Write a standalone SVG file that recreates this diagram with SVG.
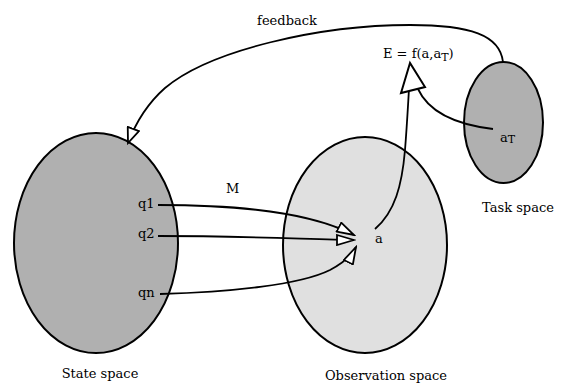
<svg xmlns="http://www.w3.org/2000/svg" width="567" height="385" viewBox="0 0 567 385">
<style>
text{font-family:'DejaVu Serif','Liberation Serif',serif;font-size:13px;fill:#000}
.sp{stroke:#000;stroke-width:2}
.c{fill:none;stroke:#000;stroke-width:1.8}
</style>
<defs>
<marker id="oa" markerUnits="userSpaceOnUse" viewBox="0 0 20 12" refX="18" refY="6" markerWidth="20" markerHeight="12" orient="auto">
<path d="M1,1 L18,6 L1,11 Z" fill="#fff" stroke="#000" stroke-width="1.8"/>
</marker>
<marker id="ob" markerUnits="userSpaceOnUse" viewBox="0 0 18 14" refX="16" refY="7" markerWidth="18" markerHeight="14" orient="auto">
<path d="M1,1 L16,7 L1,13 Z" fill="#fff" stroke="#000" stroke-width="1.8"/>
</marker>
</defs>
<rect width="567" height="385" fill="#fff"/>
<g id="state">
<ellipse class="sp" cx="96" cy="243" rx="82" ry="110" fill="#b0b0b0"/>
<text x="100" y="378" text-anchor="middle">State space</text>
<text x="138" y="208">q1</text>
<text x="138" y="238">q2</text>
<text x="138" y="297">qn</text>
</g>
<g id="observation">
<ellipse class="sp" cx="365" cy="245" rx="82" ry="108" fill="#e0e0e0"/>
<text x="386" y="380" text-anchor="middle">Observation space</text>
<text x="375" y="243">a</text>
</g>
<g id="task">
<ellipse class="sp" cx="503.5" cy="122.5" rx="39.5" ry="60.5" fill="#b0b0b0"/>
<text x="518" y="212" text-anchor="middle">Task space</text>
<text x="500" y="142">a<tspan font-size="11" dy="1">T</tspan></text>
</g>
<g id="E">
<text x="383" y="58">E = f(a,a<tspan font-size="11" dy="3">T</tspan><tspan dy="-3">)</tspan></text>
</g>
<g id="labels">
<text x="287" y="25" text-anchor="middle">feedback</text>
<text x="226" y="193">M</text>
</g>
<g id="connectors">
<path class="c" d="M503,62 C500,35 470,25 410,25 C320,25 210,50 165,88 C148,103 136,122 128,143" marker-end="url(#ob)"/>
<path class="c" d="M158,205 C240,205 310,212 354,235" marker-end="url(#oa)"/>
<path class="c" d="M158,236 C250,236 320,240 354,240" marker-end="url(#oa)"/>
<path class="c" d="M160,294 C230,292 300,285 330,270 C345,262 352,255 356,247" marker-end="url(#oa)"/>
<path class="c" d="M375,229 C395,212 402,185 405,150 C407,125 408,105 409,89"/>
<path class="c" d="M493,129 C460,125 430,115 418,89"/>
<path d="M410,63 L401,93 L425,87 Z" fill="#fff" stroke="#000" stroke-width="2"/>
</g>
</svg>
